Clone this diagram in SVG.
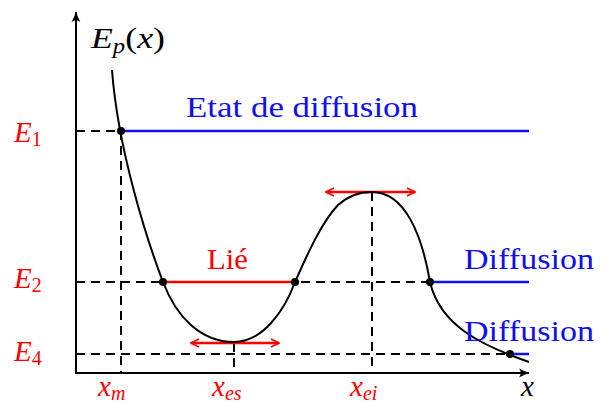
<svg xmlns="http://www.w3.org/2000/svg" width="609" height="403" viewBox="0 0 609 403">
<style>
.axis{stroke:#000;stroke-width:2;fill:none}
.dash{stroke:#000;stroke-width:2;stroke-dasharray:9,6;fill:none}
.curve{stroke:#000;stroke-width:2;fill:none}
.blue{stroke:#1010ee;stroke-width:2.5;fill:none}
.red{stroke:#ff0000;stroke-width:2.5;fill:none}
.dot{fill:#000}
.lbl{font-family:"Liberation Serif","DejaVu Serif",serif;font-size:29px}
.math{font-family:"Liberation Serif","DejaVu Serif",serif;font-style:italic;font-size:29px}
.sub{font-size:20px}
</style>
<defs>
<marker id="ah" viewBox="0 0 10 10" refX="9" refY="5" markerWidth="10" markerHeight="10" markerUnits="userSpaceOnUse" orient="auto-start-reverse">
<path d="M1,1 L9,5 L1,9" fill="none" stroke="#ff0000" stroke-width="1.6"/>
</marker>
<marker id="ax" viewBox="0 0 10 10" refX="9" refY="5" markerWidth="11" markerHeight="11" markerUnits="userSpaceOnUse" orient="auto">
<path d="M0,1 Q5,4 10,5 Q5,6 0,9 Q3,5 0,1 Z" fill="#000"/>
</marker>
</defs>
<g id="axes">
<line class="axis" x1="76" y1="373" x2="76" y2="12" marker-end="url(#ax)"/>
<line class="axis" x1="75" y1="373" x2="529" y2="373" marker-end="url(#ax)"/>
</g>
<g id="connectors">
<line class="dash" x1="76" y1="131" x2="529" y2="131"/>
<line class="dash" x1="76" y1="282" x2="529" y2="282"/>
<line class="dash" x1="76" y1="354" x2="529" y2="354"/>
<line class="dash" x1="121" y1="131" x2="121" y2="373"/>
<line class="dash" x1="234" y1="343" x2="234" y2="373"/>
<line class="dash" x1="372" y1="192" x2="372" y2="373"/>
<line class="blue" x1="121" y1="131" x2="529" y2="131"/>
<line class="blue" x1="430" y1="282" x2="529" y2="282"/>
<line class="blue" x1="510" y1="354" x2="529" y2="354"/>
<line class="red" x1="163" y1="282" x2="295" y2="282"/>
<line class="red" x1="191" y1="343" x2="279" y2="343" stroke-width="2" marker-start="url(#ah)" marker-end="url(#ah)"/>
<line class="red" x1="326" y1="192" x2="415" y2="192" stroke-width="2" marker-start="url(#ah)" marker-end="url(#ah)"/>
</g>
<g id="curve">
<path class="curve" d="M112,70 C118,150 147,240 163,282 C176,316 200,342 234,342 C262,342 284,312 295,282 C305,260 320,224 338,205 C348,196 358,192 372,192 C405,192 422,235 430,282 C440,325 480,345 529,362"/>
</g>
<g id="points">
<circle class="dot" cx="121" cy="131" r="4"/>
<circle class="dot" cx="163" cy="282" r="4"/>
<circle class="dot" cx="295" cy="282" r="4"/>
<circle class="dot" cx="430" cy="282" r="4"/>
<circle class="dot" cx="510" cy="354" r="4"/>
</g>
<g id="labels">
<text class="math" x="91" y="48" textLength="74" lengthAdjust="spacingAndGlyphs">E<tspan class="sub" dy="5">p</tspan><tspan dy="-5" font-style="normal">(</tspan>x<tspan font-style="normal">)</tspan></text>
<text class="math" x="14" y="142" fill="#ff0000">E<tspan class="sub" font-style="normal" dy="4">1</tspan></text>
<text class="math" x="14" y="288" fill="#ff0000">E<tspan class="sub" font-style="normal" dy="4">2</tspan></text>
<text class="math" x="14" y="361" fill="#ff0000">E<tspan class="sub" font-style="normal" dy="4">4</tspan></text>
<text class="lbl" x="186" y="117" fill="#1010ee" textLength="232" lengthAdjust="spacingAndGlyphs">Etat de diffusion</text>
<text class="lbl" x="207" y="269" fill="#ff0000" textLength="41" lengthAdjust="spacingAndGlyphs">Lié</text>
<text class="lbl" x="464" y="269" fill="#1010ee" textLength="130" lengthAdjust="spacingAndGlyphs">Diffusion</text>
<text class="lbl" x="464" y="341" fill="#1010ee" textLength="130" lengthAdjust="spacingAndGlyphs">Diffusion</text>
<text class="math" x="98" y="396" fill="#ff0000">x<tspan class="sub" dy="4">m</tspan></text>
<text class="math" x="212" y="396" fill="#ff0000">x<tspan class="sub" dy="4">es</tspan></text>
<text class="math" x="350" y="396" fill="#ff0000">x<tspan class="sub" dy="4">ei</tspan></text>
<text class="math" x="521" y="396">x</text>
</g>
</svg>
